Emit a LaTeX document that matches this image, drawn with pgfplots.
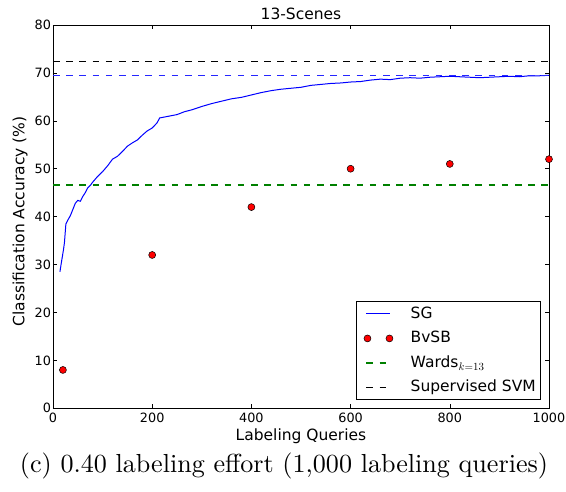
\documentclass[border=0pt]{standalone}
\usepackage{pgfplots}
\pgfplotsset{compat=1.18}
\usepackage{fontspec}
\newfontfamily\dejavu{DejaVu Sans}
\definecolor{mplgreen}{rgb}{0,0.5,0}
\definecolor{mplblue}{rgb}{0.15,0.15,1}
\pgfplotsset{twomarks legend/.style={legend image code/.code={\path (-5pt,0pt); \draw[mark repeat=1, mark phase=1, ##1] plot coordinates {(1pt,0pt) (23pt,0pt)};}}}
\begin{document}
\begin{tikzpicture}
\path[use as bounding box] (-53pt,-83.7pt) rectangle (513pt,408.3pt);
\begin{axis}[
  at={(0pt,0pt)}, anchor=south west,
  scale only axis, width=496pt, height=383.3pt,
  xmin=0, xmax=1000, ymin=0, ymax=80,
  xtick={0,200,400,600,800,1000},
  ytick={0,10,20,30,40,50,60,70,80},
  scaled x ticks=false,
  /pgf/number format/1000 sep={},
  /pgf/number format/assume math mode=true,
  tick align=inside, major tick length=4pt,
  tick style={black, line width=0.6pt},
  axis line style={line width=0.8pt},
  ticklabel style={font=\dejavu\fontsize{12.8}{15}\selectfont},
  xticklabel style={yshift=-1.5pt},
  yticklabel style={xshift=1.5pt},
  legend cell align=left,
  legend style={at={(axis description cs:0.984,0.0217)}, anchor=south east,
    draw=black, line width=0.6pt,
    font=\dejavu\fontsize{15.5}{18}\selectfont,
    inner xsep=5pt, inner ysep=4.75pt, row sep=9.5pt, column sep=17.7pt,
    nodes={inner sep=0pt, text height=12pt, text depth=3pt}},
  legend image code/.code={\path (-5pt,0pt); \draw[#1] (0pt,0pt) -- (24pt,0pt);},
]
\addplot[draw=blue, line width=1pt] coordinates {
(14,28.5)(17,30.5)(21,33)(23,34.5)(26,38.5)(30,39.3)(35,40.2)(40,41.5)(45,42.8)(50,43.4)
(55,43.2)(60,44.2)(65,45.0)(70,46.0)(75,46.5)(80,47.2)(90,48.4)(100,49.4)(110,50.6)(120,52.0)
(130,52.6)(140,53.6)(150,54.7)(160,55.4)(170,56.0)(180,57.0)(190,57.9)(200,58.5)(210,59.6)(215,60.6)
(225,60.8)(235,61.0)(250,61.3)(265,61.9)(280,62.3)(300,63.0)(320,63.6)(340,64.1)(360,64.6)(380,64.9)
(400,65.4)(420,65.9)(440,66.3)(460,66.6)(480,66.8)(500,67.0)(520,67.4)(540,67.6)(560,67.8)(580,67.9)
(600,68.1)(620,68.2)(640,68.5)(660,68.7)(680,68.6)(700,68.9)(720,69.0)(740,68.9)(760,69.1)(780,69.2)
(800,69.3)(820,69.2)(840,69.1)(860,69.0)(880,69.1)(900,69.2)(920,69.3)(940,69.2)(960,69.4)(980,69.4)(1000,69.5)
};
\addlegendentry{SG}
\addplot[only marks, mark=*, mark size=3.5pt, mark options={fill=red, draw=black, line width=0.5pt}, twomarks legend]
  coordinates {(20,8)(200,32)(400,42)(600,50)(800,51)(1000,52)};
\addlegendentry{BvSB}
\addplot[draw=mplgreen, line width=1.3pt, dash pattern=on 6.6pt off 6.6pt] coordinates {(0,46.6)(1000,46.6)};
\addlegendentry{Wards$_{k=13}$}
\addplot[draw=black, line width=1.2pt, dash pattern=on 6.6pt off 6.6pt] coordinates {(0,72.4)(1000,72.4)};
\addlegendentry{Supervised SVM}
\addplot[draw=mplblue, line width=1.3pt, dash pattern=on 6.6pt off 6.6pt, forget plot] coordinates {(0,69.4)(1000,69.4)};
\end{axis}
\node[anchor=base, font=\dejavu\fontsize{15.5}{18}\selectfont] at (248pt,388.7pt) {13-Scenes};
\node[anchor=base, font=\dejavu\fontsize{15.5}{18}\selectfont] at (248pt,-32.2pt) {Labeling Queries};
\node[anchor=center, rotate=90, font=\dejavu\fontsize{15.5}{18}\selectfont] at (-33pt,186.8pt) {Classification Accuracy (\%)};
\node[anchor=base] at (231pt,-64.2pt) {\resizebox{528pt}{!}{(c) 0.40 labeling effort (1,000 labeling queries)}};
\end{tikzpicture}
\end{document}
